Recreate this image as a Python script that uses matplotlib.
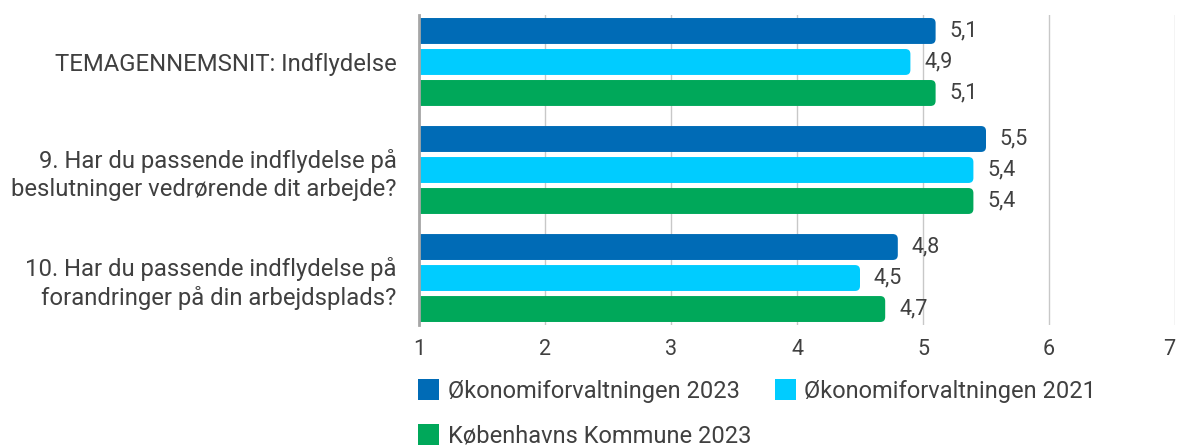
import matplotlib
matplotlib.use("Agg")
import matplotlib.pyplot as plt
from matplotlib.patches import FancyBboxPatch

plt.rcParams['font.family'] = ['Roboto', 'DejaVu Sans']

categories = [
    "TEMAGENNEMSNIT: Indflydelse",
    "9. Har du passende indflydelse på\nbeslutninger vedrørende dit arbejde?",
    "10. Har du passende indflydelse på\nforandringer på din arbejdsplads?",
]
series_names = ["Økonomiforvaltningen 2023", "Økonomiforvaltningen 2021", "Københavns Kommune 2023"]
okf_2023 = [5.1, 5.5, 4.8]
okf_2021 = [4.9, 5.4, 4.5]
kk_2023 = [5.1, 5.4, 4.7]
xticks = [1, 2, 3, 4, 5, 6, 7]

colors = ["#006BB6", "#00CCFF", "#00A85A"]
text_color = "#404040"

fig = plt.figure(figsize=(11.78, 4.47), dpi=100)
ax = fig.add_axes([419/1178, 1 - 325/447, (1175-419)/1178, 310/447])

xmin, xmax = 1, 7
ax.set_xlim(xmin, xmax)
ax.set_ylim(2.435, -0.435)

bar_h = 0.24
offsets = [-0.287, 0.0, 0.287]
px_x = (1175 - 419) / (xmax - xmin)
px_y = 108.0
r = 5 / px_x
aspect = px_x / px_y

for si, vals in enumerate([okf_2023, okf_2021, kk_2023]):
    for ci, v in enumerate(vals):
        y = ci + offsets[si]
        p = FancyBboxPatch((xmin - 2 * r, y - bar_h / 2), v - xmin + 2 * r, bar_h,
                           boxstyle=f"round,pad=0,rounding_size={r}",
                           mutation_aspect=aspect, facecolor=colors[si],
                           edgecolor="none", zorder=3)
        ax.add_patch(p)
        ax.text(v + 0.11, y, f"{v:.1f}".replace(".", ","), va="center", ha="left",
                fontsize=15.5, color=text_color, zorder=4)

ax.set_xticks(xticks)
ax.set_xticklabels([str(t) for t in xticks], fontsize=15.5, color=text_color)
ax.get_xticklabels()[-1].set_horizontalalignment("right")
ax.set_yticks(range(len(categories)))
ax.set_yticklabels(categories, fontsize=17.2, color=text_color, linespacing=1.3)
ax.tick_params(axis='both', length=0)
ax.tick_params(axis='y', pad=16)
ax.tick_params(axis='x', pad=10)
ax.grid(axis='x', color="#c8c8c8", linewidth=1, zorder=0)
for s in ["top", "right", "bottom"]:
    ax.spines[s].set_visible(False)
ax.spines["left"].set_color("#a6a6a6")
ax.spines["left"].set_linewidth(2)
ax.spines["left"].set_zorder(5)

handles = [FancyBboxPatch((0, 0), 1, 1, boxstyle="round,pad=0,rounding_size=0.15",
                          facecolor=c, edgecolor="none") for c in colors]
order = [0, 2, 1]
fig.legend([handles[i] for i in order], [series_names[i] for i in order],
           ncol=2, loc="upper left", bbox_to_anchor=(418/1178, 1 - 379/447),
           frameon=False, fontsize=17, labelcolor=text_color,
           handlelength=0.9, handleheight=1.0, handletextpad=0.35,
           columnspacing=1.0, labelspacing=0.9, borderaxespad=0, borderpad=0)

fig.savefig("out.png", dpi=100, facecolor="white")
